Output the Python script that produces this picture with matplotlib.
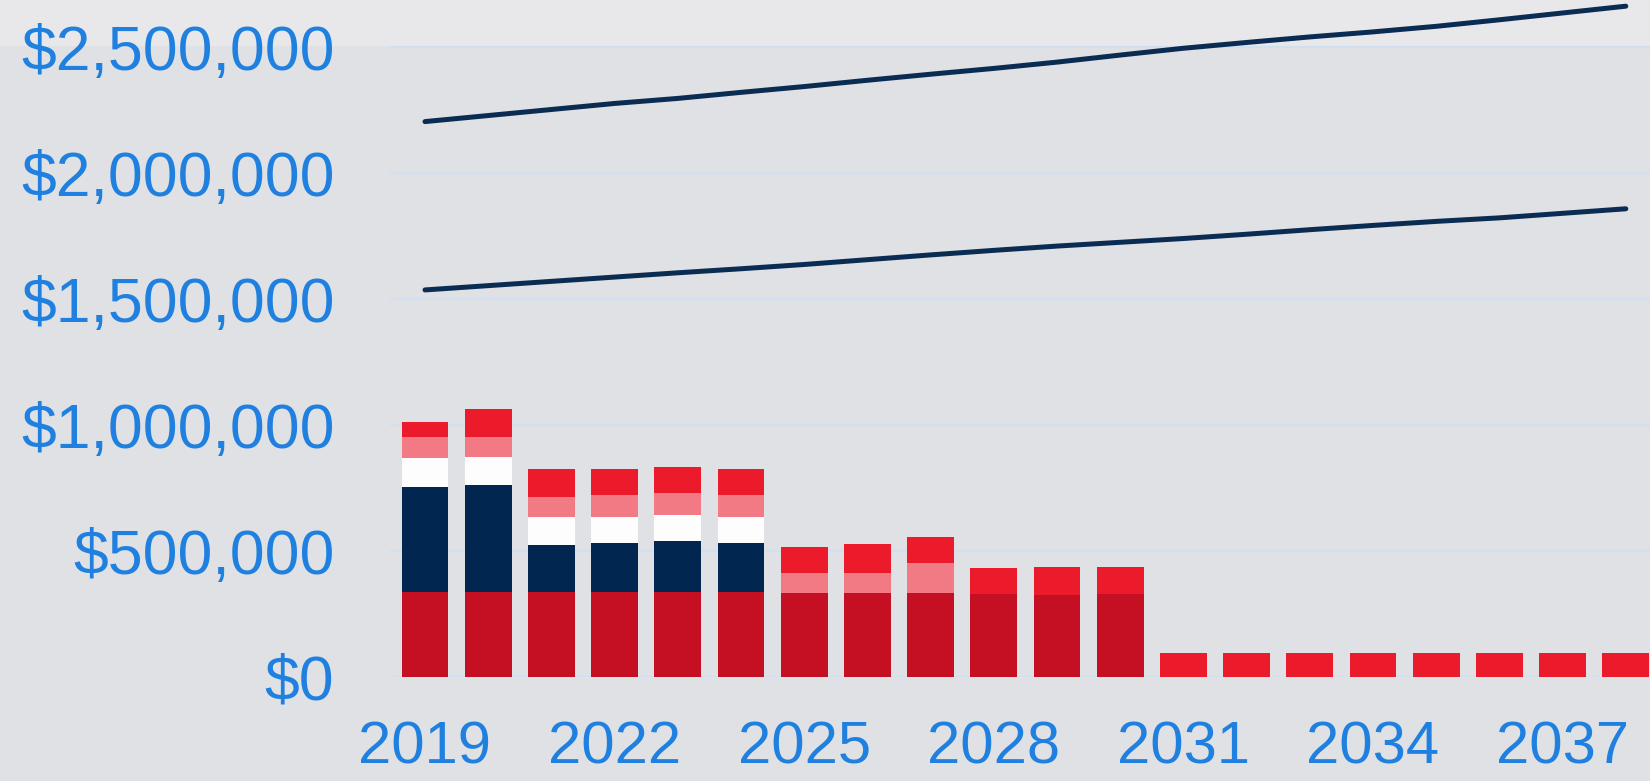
import matplotlib
matplotlib.use("Agg")
import matplotlib.pyplot as plt
from matplotlib.patches import Rectangle
from matplotlib.ticker import FuncFormatter, MultipleLocator
import numpy as np

plt.rcParams['font.family'] = ['Liberation Sans', 'DejaVu Sans']

years = list(range(2019, 2039))
# stacked segments (bottom to top), dollars
base_seg  = [336000, 336000, 336000, 336000, 336000, 336000, 332000, 332000, 332000, 328000,
             326000, 328000, 0, 0, 0, 0, 0, 0, 0, 0]
navy_seg  = [419000, 426000, 188000, 194000, 204000, 197000, 0, 0, 0, 0,
             0, 0, 0, 0, 0, 0, 0, 0, 0, 0]
white_seg = [113000, 112000, 112000, 106000, 103000, 103000, 0, 0, 0, 0,
             0, 0, 0, 0, 0, 0, 0, 0, 0, 0]
pink_seg  = [86000, 79000, 79000, 86000, 89000, 86000, 82000, 82000, 121000, 0,
             0, 0, 0, 0, 0, 0, 0, 0, 0, 0]
red_seg   = [56000, 110000, 110000, 103000, 103000, 103000, 103000, 113000, 103000, 106000,
             110000, 108000, 95000, 95000, 95000, 95000, 95000, 95000, 95000, 95000]

upper_line = [2204000, 2228000, 2252000, 2276000, 2296000, 2320000, 2343000, 2368000, 2392000, 2415000,
              2440000, 2468000, 2495000, 2518000, 2540000, 2560000, 2582000, 2608000, 2635000, 2662000]
lower_line = [1536000, 1553000, 1570000, 1587000, 1604000, 1620000, 1637000, 1656000, 1675000, 1693000,
              1710000, 1725000, 1740000, 1757000, 1775000, 1792000, 1808000, 1822000, 1840000, 1858000]

xtick_years = [2019, 2022, 2025, 2028, 2031, 2034, 2037]

seg_colors = ['#c50f22', '#01264f', '#fdfdfd', '#f17a84', '#ec1b2c']
line_color = '#0b2c52'
text_color = '#1f80e0'
bg = '#dfe1e4'

W, H = 1650, 781
fig = plt.figure(figsize=(W / 100, H / 100), dpi=100, facecolor=bg)
# lighter top band (behind everything)
fig.patches.append(Rectangle((0, 1 - 46 / H), 1, 46 / H, transform=fig.transFigure,
                             facecolor='#e8e8eb', edgecolor='none', zorder=-10))

ax_left = 390 / W
ax_bottom = (H - 677) / H
ax = fig.add_axes([ax_left, ax_bottom, 1 - ax_left, 677 / H])
ax.set_facecolor('none')

px_per_year = 63.2
x0 = 2019 - (425 - 390) / px_per_year
x1 = 2019 + (1650 - 425) / px_per_year
ax.set_xlim(x0, x1)
ax.set_ylim(0, 677 / 252 * 1e6)

x = np.array(years)
bottom = np.zeros(len(years))
for seg, col in zip([base_seg, navy_seg, white_seg, pink_seg, red_seg], seg_colors):
    vals = np.array(seg, dtype=float)
    ax.bar(x, vals, bottom=bottom, width=0.74, color=col, edgecolor='none', zorder=3)
    bottom += vals

ax.plot(x, upper_line, color=line_color, lw=3.6, solid_capstyle='round', zorder=4, clip_on=False)
ax.plot(x, lower_line, color=line_color, lw=3.6, solid_capstyle='round', zorder=4, clip_on=False)

ax.yaxis.set_major_locator(MultipleLocator(500000))
ax.yaxis.set_major_formatter(FuncFormatter(lambda v, p: f"${v:,.0f}"))
ax.set_xticks(xtick_years)
ax.set_xticklabels([str(y) for y in xtick_years])
ax.grid(axis='y', color='#d2dff0', lw=1.6, zorder=1)
ax.set_axisbelow(True)
for s in ax.spines.values():
    s.set_visible(False)
ax.tick_params(axis='both', length=0, colors=text_color)
ax.tick_params(axis='y', pad=40, labelsize=45)
ax.tick_params(axis='x', pad=31, labelsize=43)

fig.savefig('out.png', dpi=100, facecolor=bg)
